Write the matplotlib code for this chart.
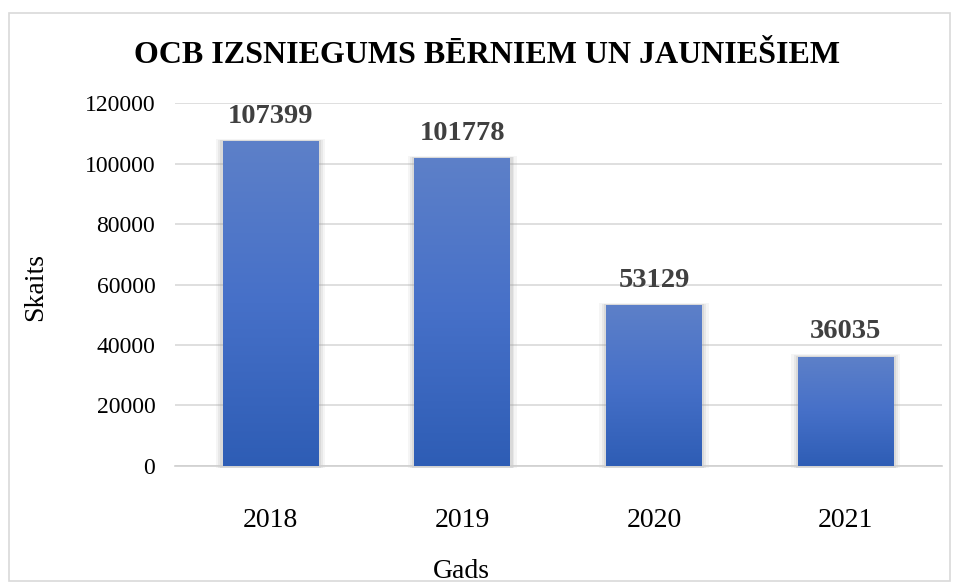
import numpy as np
import matplotlib.pyplot as plt
from matplotlib.patches import Rectangle
import matplotlib.colors as mcolors

plt.rcParams['font.family'] = ['Liberation Serif', 'DejaVu Serif']

gadi = ['2018', '2019', '2020', '2021']
skaits = [107399, 101778, 53129, 36035]
y_ticks = [0, 20000, 40000, 60000, 80000, 100000, 120000]

fig = plt.figure(figsize=(9.55, 5.86), dpi=100)
ax = fig.add_axes([0.183, 0.205, 0.803, 0.619])

x = np.arange(len(gadi))
bars = ax.bar(x, skaits, width=0.5, color='none', zorder=3)

# gradients kolonnām
cmap = mcolors.LinearSegmentedColormap.from_list('g', ['#2e5db5', '#4670c8', '#5d80c9'])
grad = np.linspace(0, 1, 256).reshape(-1, 1)
for b in bars:
    x0, y0 = b.get_x(), b.get_y()
    w, h = b.get_width(), b.get_height()
    # ēna
    for k, a in [(0.035, 0.10), (0.022, 0.15), (0.012, 0.2)]:
        ax.add_patch(Rectangle((x0 - k, y0 - 700), w + 2 * k, h + 700 + k * 25000,
                               facecolor='#a0a0a0', edgecolor='none', alpha=a,
                               zorder=2, clip_on=False))
    im = ax.imshow(grad, cmap=cmap, aspect='auto', origin='lower',
                   extent=[x0, x0 + w, y0, y0 + h], zorder=3)
    im.set_clip_path(b)

for xi, v in zip(x, skaits):
    ax.annotate(str(v), (xi, v), xytext=(0, 9), textcoords='offset points',
                ha='center', va='bottom', fontsize=20.5, fontweight='bold',
                color='#404040', zorder=4)

ax.set_xlim(-0.5, 3.5)
ax.set_ylim(0, 120000)
ax.set_xticks(x)
ax.set_xticklabels(gadi, fontsize=20)
ax.set_yticks(y_ticks)
ax.set_yticklabels([str(t) for t in y_ticks], fontsize=17)
ax.tick_params(length=0)
ax.tick_params(axis='y', pad=14)
ax.tick_params(axis='x', pad=30)
ax.grid(axis='y', color='#d9d9d9', linewidth=1.2, zorder=0)
ax.set_axisbelow(True)
for s in ['top', 'right', 'left']:
    ax.spines[s].set_visible(False)
ax.spines['bottom'].set_color('#d0d0d0')
ax.spines['bottom'].set_linewidth(1.2)

# asu nosaukumi
fig.text(461 / 955, 1 - 572 / 586, 'Gads', ha='center', va='center', fontsize=20)
fig.text(36 / 955, 1 - 287 / 586, 'Skaits', ha='center', va='center',
         rotation=90, fontsize=20)
fig.text(0.51, 0.906, 'OCB IZSNIEGUMS BĒRNIEM UN JAUNIEŠIEM', ha='center', va='center',
         fontsize=23, fontweight='bold', color='black')

fig.patches.append(Rectangle((0.009, 0.008), 0.986, 0.97, transform=fig.transFigure,
                             fill=False, edgecolor='#d9d9d9', linewidth=1.2))

fig.savefig('out.png', dpi=100)
